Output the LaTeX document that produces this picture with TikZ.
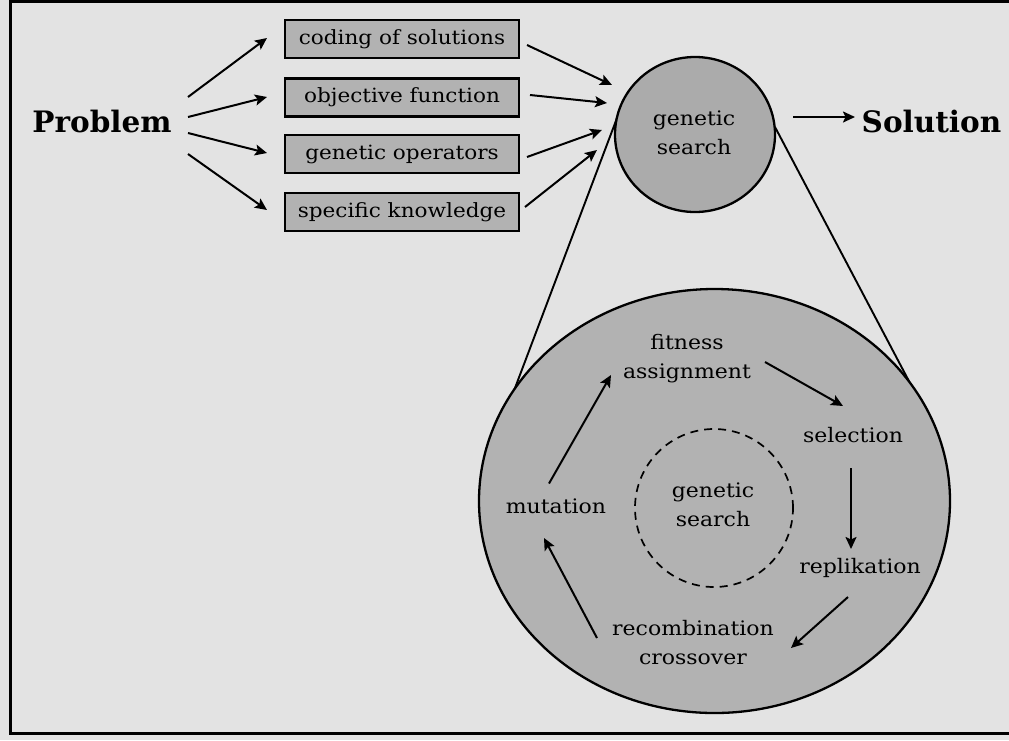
\documentclass[tikz,border=0pt]{standalone}
\usepackage{fontspec}
\setmainfont{DejaVu Serif}
\newfontfamily\widefont[FakeStretch=1.1]{DejaVu Serif}
\usetikzlibrary{arrows.meta,shapes.geometric}
\begin{document}
\begin{tikzpicture}[x=1pt,y=-1pt,
  every node/.style={inner sep=0pt, outer sep=0pt},
  lbl/.style={font=\widefont\fontsize{20}{29}\selectfont, align=center},
  bigtxt/.style={font=\fontsize{29.5}{34}\selectfont\bfseries},
  boxnode/.style={draw, line width=2.4pt, fill=black!30, minimum width=234pt, minimum height=38pt, font=\widefont\fontsize{19.6}{23}\selectfont},
  arr/.style={line width=2pt, -{Stealth[length=12pt,width=11pt,inset=2.5pt]}},
  cone/.style={line width=1.9pt},
  bubble/.style={draw, line width=2.3pt, ellipse},
  ]
\useasboundingbox (0,0) rectangle (1009,740);
\fill[black!11] (0,0) rectangle (1009,740);
\draw[line width=3pt] (1012,1.5) -- (10.5,1.5) -- (10.5,733) -- (1012,733);

% left part
\node[bigtxt] (prob) at (102,121) {Problem};
\node[boxnode] (b1) at (402,39) {coding of solutions};
\node[boxnode] (b2) at (402,97.5) {objective function};
\node[boxnode] (b3) at (402,154) {genetic operators};
\node[boxnode] (b4) at (402,212) {specific knowledge};

% small circle centre and big ellipse centre (placed first for the cone)
\coordinate (scc) at (695,134.5);
\coordinate (bcc) at (714.5,501);
\draw[cone] ([shift={(-78,-16.5)}]scc) -- ([shift={(-233.5,-23)}]bcc);
\draw[cone] ([shift={(80,-7.5)}]scc) -- ([shift={(196.5,-116)}]bcc);

\node[bubble, fill=black!33, minimum width=160pt, minimum height=155pt] (sc) at (scc) {};
\node[lbl] at (694,133) {genetic\\search};
\node[bigtxt] (sol) at (931.5,121) {Solution};

\node[bubble, fill=black!30, minimum width=471pt, minimum height=424pt] (bc) at (bcc) {};
\node[draw, circle, line width=1.7pt, dash pattern=on 8pt off 6pt, minimum size=158pt] (ic) at (714,508) {};
\node[lbl] (gs) at (713,505) {genetic\\search};

\node[lbl] (fit) at (687,358.5) {fitness\\assignment};
\node[lbl] (sel) at (853,435) {selection};
\node[lbl] (rep) at (860,568) {replikation};
\node[lbl] (rec) at (693,642.5) {recombination\\crossover};
\node[lbl] (mut) at (556,506) {mutation};

% arrows problem -> boxes
\draw[arr] ([shift={(86,-24)}]prob.center) -- ([shift={(-18,-1)}]b1.west);
\draw[arr] ([shift={(86,-4)}]prob.center) -- ([shift={(-18,-0.5)}]b2.west);
\draw[arr] ([shift={(86,12)}]prob.center) -- ([shift={(-18,-1)}]b3.west);
\draw[arr] ([shift={(86,33)}]prob.center) -- ([shift={(-18,-2)}]b4.west);

% arrows boxes -> genetic search
\draw[arr] ([shift={(8,6)}]b1.east) -- ([shift={(-83,-49.5)}]sc.center);
\draw[arr] ([shift={(11,-2.5)}]b2.east) -- ([shift={(-88,-31.5)}]sc.center);
\draw[arr] ([shift={(8,3)}]b3.east) -- ([shift={(-93,-4.5)}]sc.center);
\draw[arr] ([shift={(6,-5)}]b4.east) -- ([shift={(-98,15.5)}]sc.center);

% genetic search -> solution
\draw[arr] ([shift={(98,-17.5)}]sc.center) -- ([shift={(-76.5,-4)}]sol.center);

% cycle
\draw[arr] ([shift={(78,3.5)}]fit.center) -- ([shift={(-10,-29)}]sel.center);
\draw[arr] ([shift={(-2,33)}]sel.center) -- ([shift={(-9,-19)}]rep.center);
\draw[arr] ([shift={(-12,29)}]rep.center) -- ([shift={(98,5.5)}]rec.center);
\draw[arr] ([shift={(-96,-4.5)}]rec.center) -- ([shift={(-12,32)}]mut.center);
\draw[arr] ([shift={(-7,-22.5)}]mut.center) -- ([shift={(-76,16.5)}]fit.center);
\end{tikzpicture}
\end{document}
